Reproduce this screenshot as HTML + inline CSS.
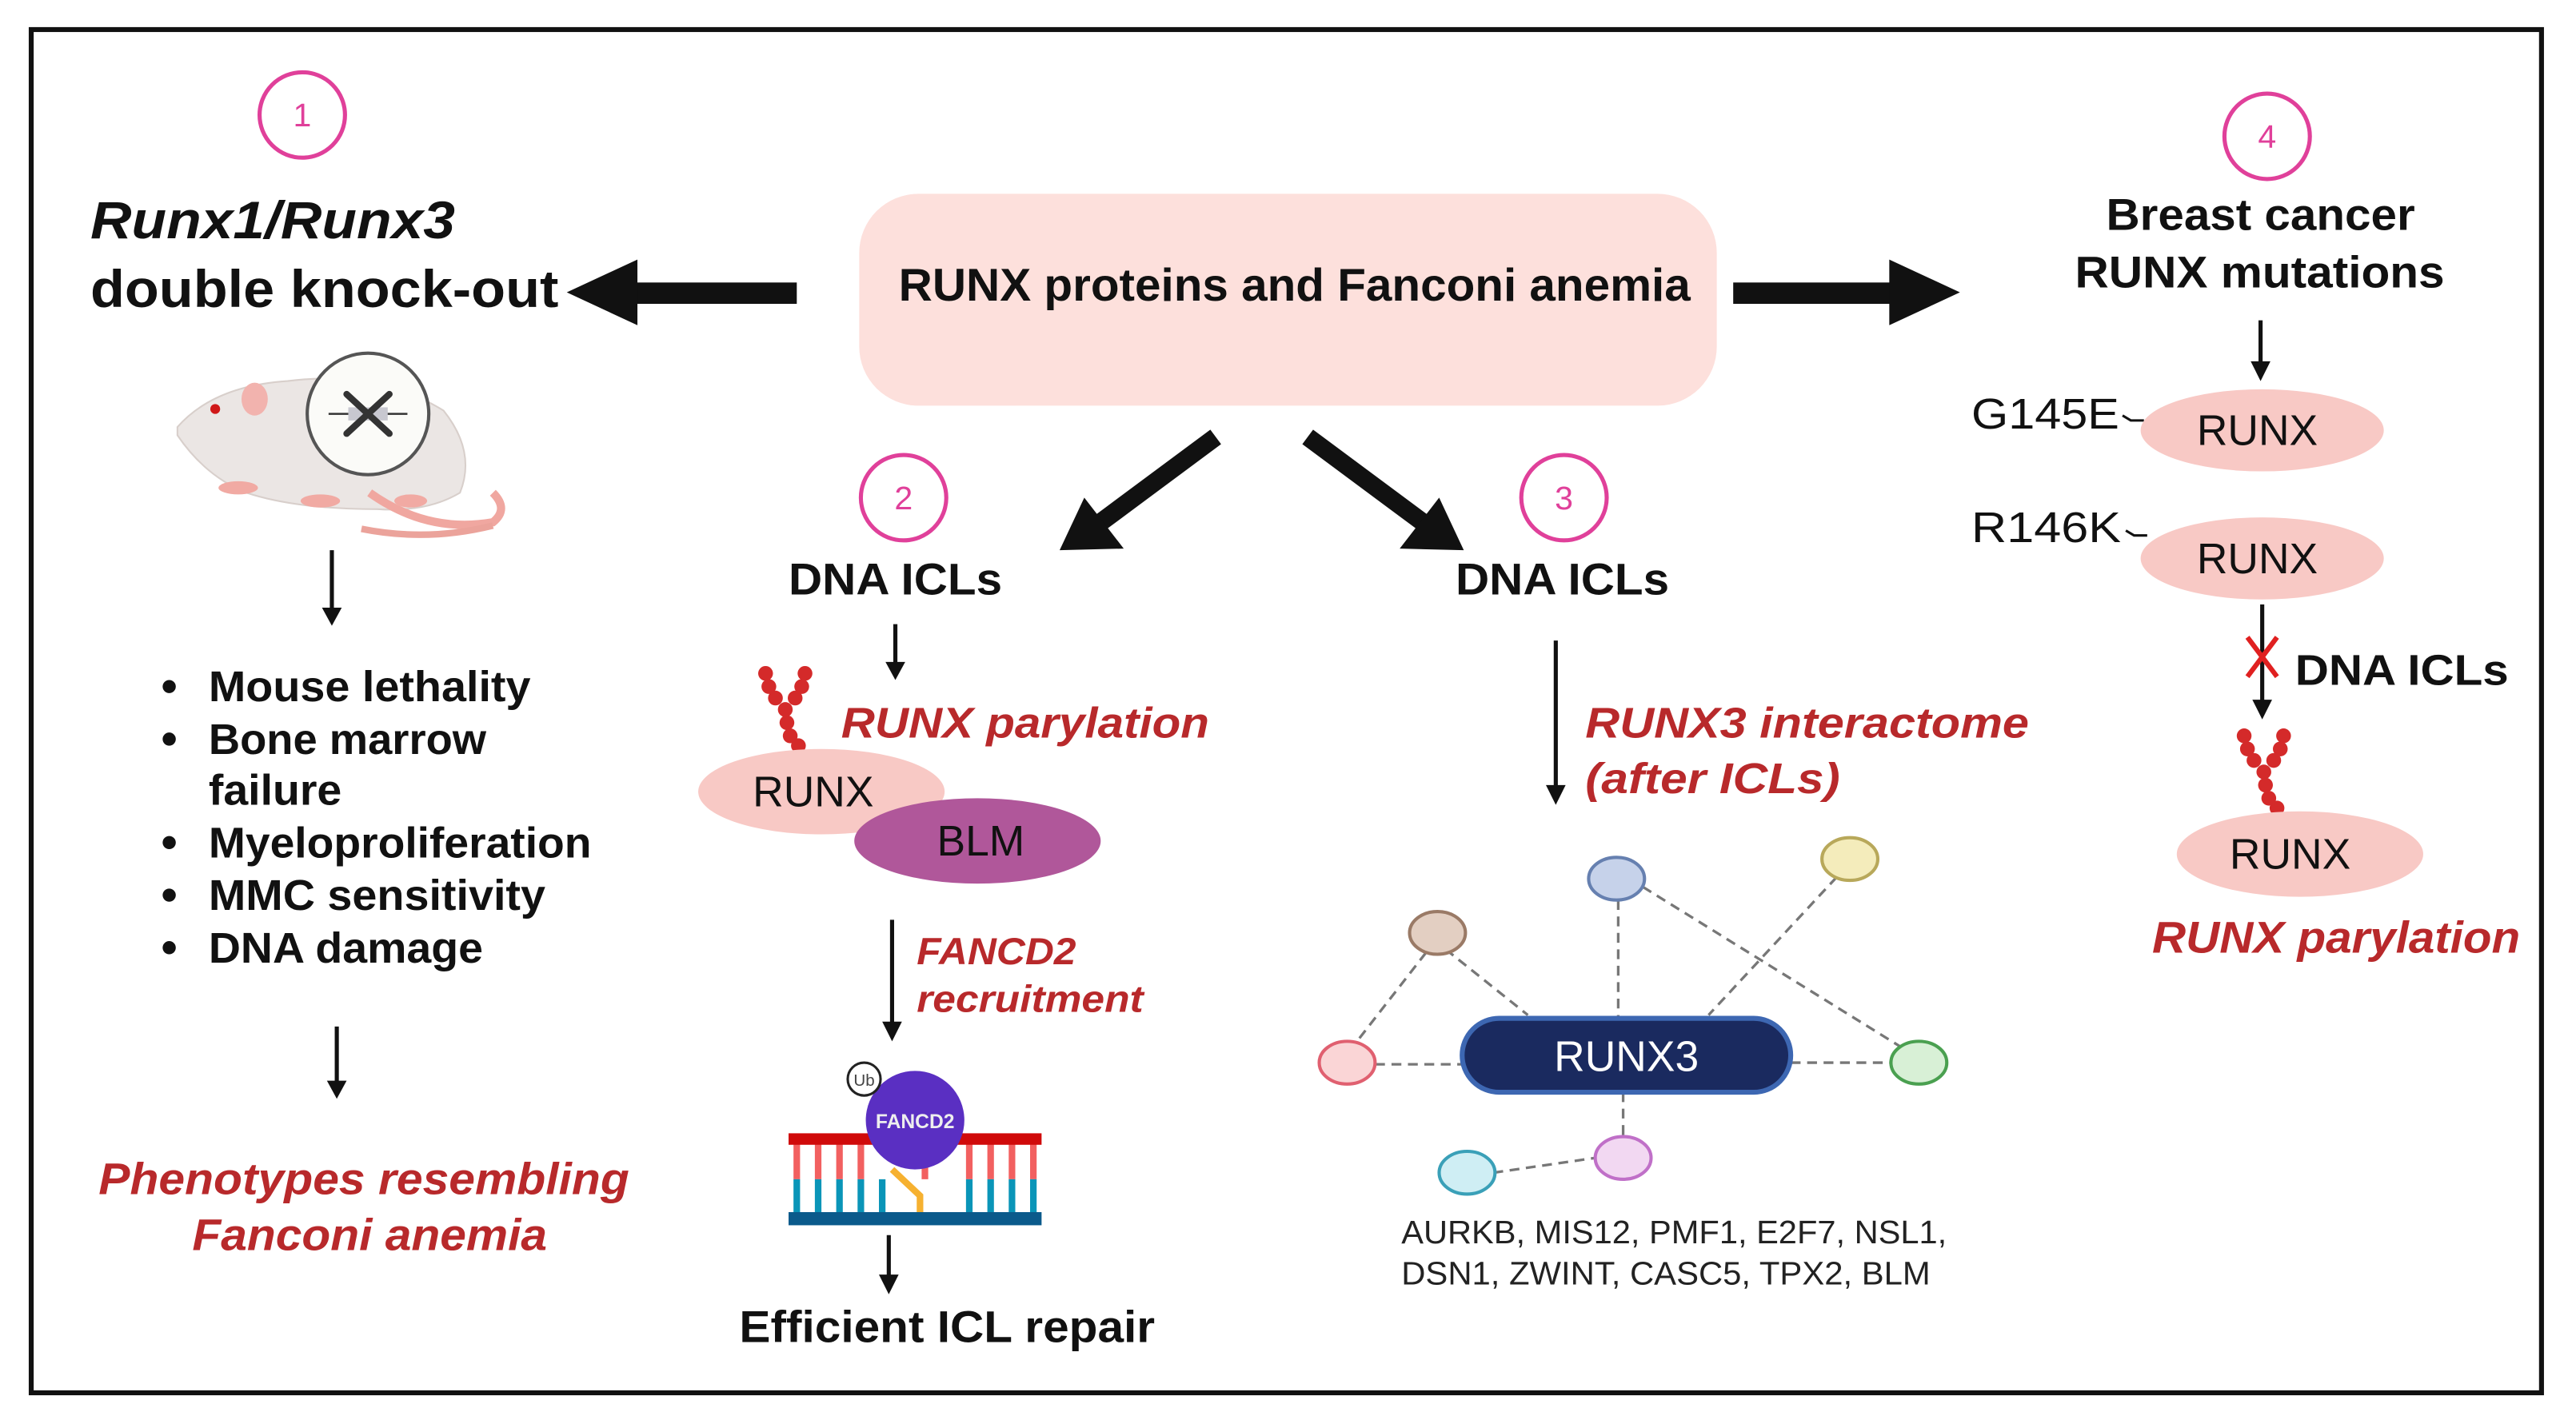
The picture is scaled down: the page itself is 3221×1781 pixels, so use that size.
<!DOCTYPE html>
<html><head><meta charset="utf-8"><style>html,body{margin:0;padding:0;background:#fff}svg{display:block}text{font-family:"Liberation Sans",sans-serif}</style></head><body>
<svg width="3221" height="1781" viewBox="0 0 1568 867" preserveAspectRatio="none" xmlns="http://www.w3.org/2000/svg">
<defs>
<g id="par" fill="#d42a2a">
<circle cx="-12" cy="-22" r="4.5"/><circle cx="-10" cy="-14" r="4.5"/><circle cx="-6" cy="-7" r="4.5"/>
<circle cx="12" cy="-22" r="4.5"/><circle cx="10" cy="-14" r="4.5"/><circle cx="6" cy="-7" r="4.5"/>
<circle cx="0" cy="0" r="4.5"/><circle cx="1" cy="8" r="4.5"/><circle cx="3" cy="16" r="4.5"/><circle cx="8" cy="22" r="4.5"/>
</g>
</defs>
<rect x="0" y="0" width="1568" height="867" fill="#fff"/>
<rect x="19" y="18" width="1528" height="830" fill="none" stroke="#111" stroke-width="3"/>
<g fill="none" stroke="#e0409a" stroke-width="2.5">
<circle cx="184" cy="70" r="26"/><circle cx="1380" cy="83" r="26"/><circle cx="550" cy="303" r="26"/><circle cx="952" cy="303" r="26"/>
</g>
<g fill="#e0409a" font-size="20" text-anchor="middle">
<text x="184" y="77">1</text><text x="1380" y="90">4</text><text x="550" y="310">2</text><text x="952" y="310">3</text>
</g>
<rect x="523" y="118" width="522" height="129" rx="36" fill="#fde0dc"/>
<text x="547" y="183" font-size="28" font-weight="bold" fill="#111" textLength="482" lengthAdjust="spacingAndGlyphs">RUNX proteins and Fanconi anemia</text>
<g fill="#111">
<rect x="385" y="172" width="100" height="13"/><polygon points="345,178 388,158 388,198"/>
<rect x="1055" y="172" width="100" height="13"/><polygon points="1193,178 1150,158 1150,198"/>
</g>
<g stroke="#111" stroke-width="11"><line x1="740" y1="266" x2="670" y2="318"/><line x1="796" y1="266" x2="866" y2="318"/></g>
<polygon points="645,335 660,303 684,334" fill="#111"/>
<polygon points="891,335 876,303 852,334" fill="#111"/>
<!-- section 1 -->
<text x="55" y="145" font-size="32" font-weight="bold" font-style="italic" fill="#111" textLength="222" lengthAdjust="spacingAndGlyphs">Runx1/Runx3</text>
<text x="55" y="187" font-size="32" font-weight="bold" fill="#111" textLength="285" lengthAdjust="spacingAndGlyphs">double knock-out</text>
<g>
<path d="M108,260 Q130,235 175,232 Q230,225 270,250 Q290,275 280,300 Q260,312 230,310 Q180,310 150,300 Q125,290 108,265 Z" fill="#ebe6e4" stroke="#d8cfcb"/>
<path d="M225,300 Q260,325 300,318 Q310,310 300,300" fill="none" stroke="#f0a7a0" stroke-width="5"/>
<path d="M220,322 Q260,330 300,320" fill="none" stroke="#eba39b" stroke-width="4"/>
<ellipse cx="155" cy="243" rx="8" ry="10" fill="#f2b3ae"/>
<circle cx="131" cy="249" r="3" fill="#d01818"/>
<ellipse cx="145" cy="297" rx="12" ry="4" fill="#f1aaa3"/><ellipse cx="195" cy="305" rx="12" ry="4" fill="#f1aaa3"/><ellipse cx="250" cy="305" rx="10" ry="4" fill="#f1aaa3"/>
<circle cx="224" cy="252" r="37" fill="#fbfbf8" stroke="#555" stroke-width="2"/>
<line x1="200" y1="252" x2="248" y2="252" stroke="#333" stroke-width="1.2"/>
<rect x="212" y="248" width="24" height="8" fill="#c8c8d0"/>
<g stroke="#333" stroke-width="4" stroke-linecap="round"><line x1="211" y1="240" x2="237" y2="264"/><line x1="237" y1="240" x2="211" y2="264"/></g>
</g>
<g stroke="#111" stroke-width="2.5"><line x1="202" y1="335" x2="202" y2="372"/><line x1="205" y1="625" x2="205" y2="660"/></g>
<polygon points="196,370 208,370 202,381" fill="#111"/><polygon points="199,658 211,658 205,669" fill="#111"/>
<g font-size="26" font-weight="bold" fill="#111" lengthAdjust="spacingAndGlyphs">
<text x="127" y="427" textLength="196" lengthAdjust="spacingAndGlyphs">Mouse lethality</text>
<text x="127" y="459" textLength="169" lengthAdjust="spacingAndGlyphs">Bone marrow</text>
<text x="127" y="490" textLength="81" lengthAdjust="spacingAndGlyphs">failure</text>
<text x="127" y="522" textLength="233" lengthAdjust="spacingAndGlyphs">Myeloproliferation</text>
<text x="127" y="554" textLength="205" lengthAdjust="spacingAndGlyphs">MMC sensitivity</text>
<text x="127" y="586" textLength="167" lengthAdjust="spacingAndGlyphs">DNA damage</text>
</g>
<g fill="#111"><circle cx="103" cy="418" r="4"/><circle cx="103" cy="450" r="4"/><circle cx="103" cy="513" r="4"/><circle cx="103" cy="545" r="4"/><circle cx="103" cy="577" r="4"/></g>
<g font-size="27" font-weight="bold" font-style="italic" fill="#b8292b">
<text x="60" y="727" textLength="323" lengthAdjust="spacingAndGlyphs">Phenotypes resembling</text>
<text x="117" y="761" textLength="216" lengthAdjust="spacingAndGlyphs">Fanconi anemia</text>
</g>
<!-- section 2 -->
<text x="480" y="362" font-size="27" font-weight="bold" fill="#111" textLength="130" lengthAdjust="spacingAndGlyphs">DNA ICLs</text>
<text x="886" y="362" font-size="27" font-weight="bold" fill="#111" textLength="130" lengthAdjust="spacingAndGlyphs">DNA ICLs</text>
<line x1="545" y1="380" x2="545" y2="405" stroke="#111" stroke-width="2.5"/><polygon points="539,403 551,403 545,414" fill="#111"/>
<use href="#par" x="478" y="432"/>
<text x="512" y="449" font-size="26" font-weight="bold" font-style="italic" fill="#b8292b" textLength="224" lengthAdjust="spacingAndGlyphs">RUNX parylation</text>
<ellipse cx="500" cy="482" rx="75" ry="26" fill="#f8c9c5"/>
<text x="495" y="491" font-size="26" fill="#111" text-anchor="middle">RUNX</text>
<ellipse cx="595" cy="512" rx="75" ry="26" fill="#b0579a"/>
<text x="597" y="521" font-size="26" fill="#111" text-anchor="middle">BLM</text>
<line x1="543" y1="560" x2="543" y2="624" stroke="#111" stroke-width="2.5"/><polygon points="537,622 549,622 543,634" fill="#111"/>
<g font-size="23" font-weight="bold" font-style="italic" fill="#b8292b"><text x="558" y="587" textLength="97" lengthAdjust="spacingAndGlyphs">FANCD2</text><text x="558" y="616" textLength="138" lengthAdjust="spacingAndGlyphs">recruitment</text></g>
<g stroke-width="4">
<g stroke="#f26060"><line x1="485" y1="695" x2="485" y2="718"/><line x1="498" y1="695" x2="498" y2="718"/><line x1="511" y1="695" x2="511" y2="718"/><line x1="524" y1="695" x2="524" y2="718"/><line x1="563" y1="695" x2="563" y2="718"/><line x1="590" y1="695" x2="590" y2="718"/><line x1="603" y1="695" x2="603" y2="718"/><line x1="616" y1="695" x2="616" y2="718"/><line x1="629" y1="695" x2="629" y2="718"/></g>
<g stroke="#0a95b8"><line x1="485" y1="718" x2="485" y2="740"/><line x1="498" y1="718" x2="498" y2="740"/><line x1="511" y1="718" x2="511" y2="740"/><line x1="524" y1="718" x2="524" y2="740"/><line x1="537" y1="718" x2="537" y2="740"/><line x1="590" y1="718" x2="590" y2="740"/><line x1="603" y1="718" x2="603" y2="740"/><line x1="616" y1="718" x2="616" y2="740"/><line x1="629" y1="718" x2="629" y2="740"/></g>
<polyline points="543,712 560,728 560,740" fill="none" stroke="#f6b130"/>
</g>
<rect x="480" y="690" width="154" height="7" fill="#d00a0a"/>
<rect x="480" y="738" width="154" height="8" fill="#0b5a8b"/>
<circle cx="557" cy="682" r="30" fill="#5a2fc2"/>
<text x="557" y="687" font-size="12" font-weight="bold" fill="#eee" text-anchor="middle">FANCD2</text>
<circle cx="526" cy="657" r="10" fill="#fff" stroke="#222" stroke-width="1.5"/>
<text x="526" y="661" font-size="10" fill="#444" text-anchor="middle">Ub</text>
<line x1="541" y1="752" x2="541" y2="778" stroke="#111" stroke-width="2.5"/><polygon points="535,776 547,776 541,788" fill="#111"/>
<text x="450" y="817" font-size="27" font-weight="bold" fill="#111" textLength="253" lengthAdjust="spacingAndGlyphs">Efficient ICL repair</text>
<!-- section 3 -->
<line x1="947" y1="390" x2="947" y2="480" stroke="#111" stroke-width="2.5"/><polygon points="941,478 953,478 947,490" fill="#111"/>
<g font-size="26" font-weight="bold" font-style="italic" fill="#b8292b"><text x="965" y="449" textLength="270" lengthAdjust="spacingAndGlyphs">RUNX3 interactome</text><text x="965" y="483" textLength="155" lengthAdjust="spacingAndGlyphs">(after ICLs)</text></g>
<g stroke="#777" stroke-width="1.6" stroke-dasharray="6,4" fill="none">
<line x1="880" y1="578" x2="930" y2="618"/><line x1="868" y1="580" x2="826" y2="634"/><line x1="837" y1="648" x2="890" y2="648"/>
<line x1="985" y1="548" x2="985" y2="620"/><line x1="1000" y1="540" x2="1158" y2="638"/><line x1="1118" y1="534" x2="1040" y2="618"/>
<line x1="1090" y1="647" x2="1152" y2="647"/><line x1="988" y1="665" x2="988" y2="692"/><line x1="909" y1="714" x2="971" y2="705"/>
</g>
<g stroke-width="2">
<ellipse cx="875" cy="568" rx="17" ry="13" fill="#e3cfc2" stroke="#9a7a66"/>
<ellipse cx="984" cy="535" rx="17" ry="13" fill="#c6d2ea" stroke="#6680b0"/>
<ellipse cx="1126" cy="523" rx="17" ry="13" fill="#f4ecbb" stroke="#b8a85a"/>
<ellipse cx="820" cy="647" rx="17" ry="13" fill="#fad5d6" stroke="#e06070"/>
<ellipse cx="1168" cy="647" rx="17" ry="13" fill="#d8f0d6" stroke="#4aa050"/>
<ellipse cx="893" cy="714" rx="17" ry="13" fill="#cfeef4" stroke="#3aa0b8"/>
<ellipse cx="988" cy="705" rx="17" ry="13" fill="#f2d8f2" stroke="#c070c8"/>
</g>
<rect x="890" y="620" width="200" height="45" rx="22.5" fill="#1a2a5f" stroke="#3d67b2" stroke-width="3"/>
<text x="990" y="652" font-size="26" fill="#fff" text-anchor="middle">RUNX3</text>
<g font-size="20" fill="#222"><text x="853" y="757" textLength="332" lengthAdjust="spacingAndGlyphs">AURKB, MIS12, PMF1, E2F7, NSL1,</text><text x="853" y="782" textLength="322" lengthAdjust="spacingAndGlyphs">DSN1, ZWINT, CASC5, TPX2, BLM</text></g>
<!-- section 4 -->
<g font-size="27" font-weight="bold" fill="#111"><text x="1282" y="140" textLength="188" lengthAdjust="spacingAndGlyphs">Breast cancer</text><text x="1263" y="175" textLength="225" lengthAdjust="spacingAndGlyphs">RUNX mutations</text></g>
<line x1="1376" y1="195" x2="1376" y2="222" stroke="#111" stroke-width="2.5"/><polygon points="1370,220 1382,220 1376,232" fill="#111"/>
<text x="1200" y="261" font-size="26" fill="#111" textLength="90" lengthAdjust="spacingAndGlyphs">G145E</text>
<path d="M1292,253 l5,3 l8,0" stroke="#111" stroke-width="1.5" fill="none"/>
<ellipse cx="1377" cy="262" rx="74" ry="25" fill="#f8c9c5"/><text x="1374" y="271" font-size="26" fill="#111" text-anchor="middle">RUNX</text>
<text x="1200" y="330" font-size="26" fill="#111" textLength="91" lengthAdjust="spacingAndGlyphs">R146K</text>
<path d="M1294,323 l5,3 l8,0" stroke="#111" stroke-width="1.5" fill="none"/>
<ellipse cx="1377" cy="340" rx="74" ry="25" fill="#f8c9c5"/><text x="1374" y="349" font-size="26" fill="#111" text-anchor="middle">RUNX</text>
<line x1="1377" y1="368" x2="1377" y2="428" stroke="#111" stroke-width="2.5"/><polygon points="1371,426 1383,426 1377,438" fill="#111"/>
<g stroke="#e02020" stroke-width="3"><line x1="1368" y1="388" x2="1386" y2="412"/><line x1="1386" y1="388" x2="1368" y2="412"/></g>
<text x="1397" y="417" font-size="26" font-weight="bold" fill="#111" textLength="130" lengthAdjust="spacingAndGlyphs">DNA ICLs</text>
<use href="#par" x="1378" y="470"/>
<ellipse cx="1400" cy="520" rx="75" ry="26" fill="#f8c9c5"/><text x="1394" y="529" font-size="26" fill="#111" text-anchor="middle">RUNX</text>
<text x="1310" y="580" font-size="27" font-weight="bold" font-style="italic" fill="#b8292b" textLength="224" lengthAdjust="spacingAndGlyphs">RUNX parylation</text>
</svg>
</body></html>
